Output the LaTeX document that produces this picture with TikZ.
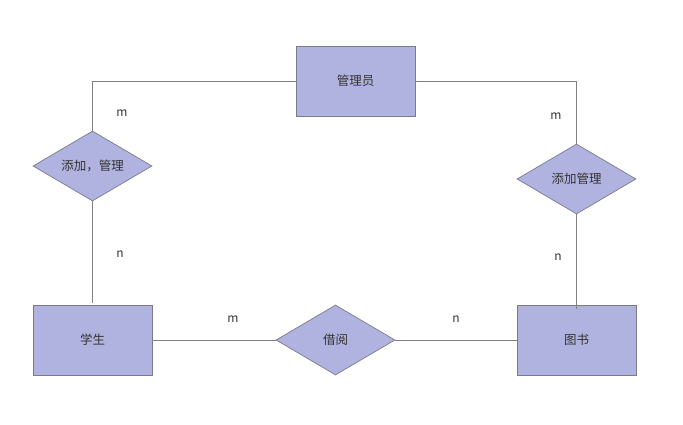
\documentclass[tikz,border=0pt]{standalone}
\usepackage{fontspec}
\setmainfont{Noto Sans CJK SC}
\usetikzlibrary{shapes.geometric}
\definecolor{boxfill}{HTML}{B0B3DF}
\definecolor{boxline}{HTML}{7A7A8C}
\definecolor{edgecol}{HTML}{808080}
\definecolor{txt}{HTML}{333333}
\begin{document}
\begin{tikzpicture}[x=1pt,y=-1pt,
  entity/.style={draw=boxline,fill=boxfill,line width=0.9pt,minimum width=119pt,minimum height=70pt,inner sep=0pt,text=txt,font=\fontsize{12.5}{14}\selectfont},
  relation/.style={diamond,aspect=1.7,draw=boxline,fill=boxfill,line width=0.7pt,minimum width=119pt,minimum height=70pt,inner sep=0pt,text=txt,font=\fontsize{12.5}{14}\selectfont},
  conn/.style={draw=edgecol,line width=0.9pt},
  card/.style={text=txt,font=\fontsize{12}{14}\selectfont,inner sep=0pt}]
\useasboundingbox (0,0) rectangle (683,425);
\node[entity] (admin) at (355.5,81) {管理员};
\node[relation] (d1) at (92.5,166) {添加，管理};
\node[relation] (d2) at (576.5,179) {添加管理};
\node[entity] (stu) at (92.5,340) {学生};
\node[entity] (book) at (576.5,340) {图书};
\node[relation] (borrow) at (335.5,340) {借阅};
\draw[conn] (admin.west) -| (d1.north);
\draw[conn] (admin.east) -| (d2.north);
\draw[conn,shorten >=2pt] (d1.south) -- (stu.north);
\draw[conn,shorten >=-4pt] (d2.south) -- (book.north);
\draw[conn] (stu.east) -- (borrow.west);
\draw[conn] (borrow.east) -- (book.west);
\node[card] (l1) at (122,113) {m};
\node[card] (l2) at (120,254) {n};
\node[card] (l3) at (556,116) {m};
\node[card] (l4) at (558,257) {n};
\node[card] (l5) at (233,319) {m};
\node[card] (l6) at (456,319) {n};
\end{tikzpicture}
\end{document}
